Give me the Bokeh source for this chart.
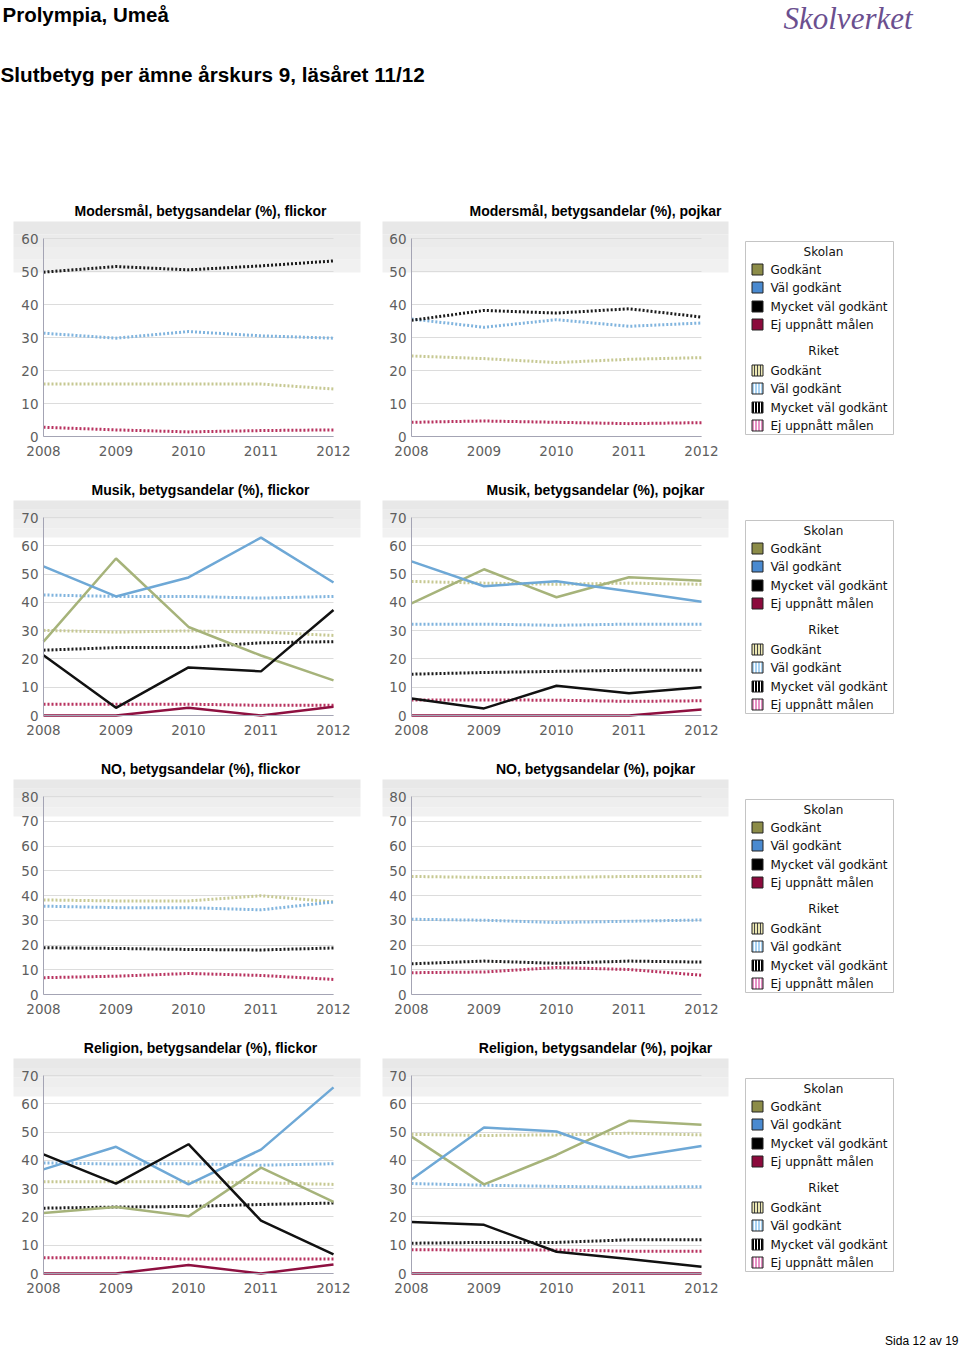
from bokeh.plotting import figure
from bokeh.layouts import column, row
from bokeh.models import FixedTicker, BoxAnnotation, Label, Range1d
from bokeh.embed import file_html
from bokeh.resources import INLINE
from bokeh.core.properties import value

# ---------------- data ----------------
YEARS = [2008, 2009, 2010, 2011, 2012]
YEAR_LABELS = {2008: "2008", 2009: "2009", 2010: "2010", 2011: "2011", 2012: "2012"}
GRADES = ["Godkänt", "Väl godkänt", "Mycket väl godkänt", "Ej uppnått målen"]

HEADER_SCHOOL = "Prolympia, Umeå"
HEADER_TITLE = "Slutbetyg per ämne årskurs 9, läsåret 11/12"
LOGO_TEXT = "Skolverket"
FOOTER_TEXT = "Sida 12 av 19"

TITLES = [
    "Modersmål, betygsandelar (%), flickor", "Modersmål, betygsandelar (%), pojkar",
    "Musik, betygsandelar (%), flickor", "Musik, betygsandelar (%), pojkar",
    "NO, betygsandelar (%), flickor", "NO, betygsandelar (%), pojkar",
    "Religion, betygsandelar (%), flickor", "Religion, betygsandelar (%), pojkar",
]
YMAX = [60, 60, 70, 70, 80, 80, 70, 70]

# Modersmål, flickor (only Riket)
mod_f_riket_g = [15.9, 15.9, 15.9, 15.9, 14.4]
mod_f_riket_vg = [31.3, 29.8, 31.8, 30.5, 29.8]
mod_f_riket_mvg = [49.8, 51.5, 50.5, 51.7, 53.2]
mod_f_riket_ej = [2.8, 2.0, 1.4, 1.8, 2.0]

# Modersmål, pojkar (only Riket)
mod_p_riket_g = [24.4, 23.6, 22.4, 23.4, 23.9]
mod_p_riket_vg = [35.6, 33.1, 35.4, 33.4, 34.4]
mod_p_riket_mvg = [35.2, 38.2, 37.4, 38.7, 36.2]
mod_p_riket_ej = [4.3, 4.7, 4.3, 3.9, 4.2]

# Musik, flickor
mus_f_skolan_g = [26.1, 55.5, 31.3, 21.2, 12.4]
mus_f_skolan_vg = [52.7, 42.1, 48.8, 62.9, 47.0]
mus_f_skolan_mvg = [21.3, 2.7, 17.0, 15.6, 37.3]
mus_f_skolan_ej = [0.0, 0.0, 2.7, 0.0, 3.1]
mus_f_riket_g = [30.1, 29.5, 29.9, 29.5, 28.3]
mus_f_riket_vg = [42.6, 42.1, 42.1, 41.5, 42.1]
mus_f_riket_mvg = [23.1, 24.0, 24.0, 25.7, 26.1]
mus_f_riket_ej = [4.0, 4.0, 4.0, 3.6, 3.6]

# Musik, pojkar
mus_p_skolan_g = [39.6, 51.7, 41.8, 48.9, 47.6]
mus_p_skolan_vg = [54.5, 45.7, 47.5, 43.9, 40.2]
mus_p_skolan_mvg = [6.0, 2.5, 10.5, 7.9, 10.0]
mus_p_skolan_ej = [0.0, 0.0, 0.0, 0.0, 2.1]
mus_p_riket_g = [47.4, 46.8, 46.4, 46.8, 46.4]
mus_p_riket_vg = [32.3, 32.3, 31.9, 32.3, 32.3]
mus_p_riket_mvg = [14.6, 15.2, 15.6, 16.0, 16.0]
mus_p_riket_ej = [5.5, 5.5, 5.4, 5.0, 5.2]

# NO, flickor (only Riket)
no_f_riket_g = [38.2, 37.8, 37.8, 39.9, 37.4]
no_f_riket_vg = [35.7, 35.1, 35.1, 34.2, 37.4]
no_f_riket_mvg = [18.9, 18.6, 18.2, 18.0, 18.8]
no_f_riket_ej = [6.8, 7.4, 8.5, 7.7, 6.1]

# NO, pojkar (only Riket)
no_p_riket_g = [47.7, 47.3, 47.3, 47.7, 47.7]
no_p_riket_vg = [30.4, 30.0, 29.1, 29.6, 30.1]
no_p_riket_mvg = [12.4, 13.5, 12.6, 13.5, 13.1]
no_p_riket_ej = [8.8, 9.1, 10.9, 10.1, 7.8]

# Religion, flickor
rel_f_skolan_g = [21.4, 23.5, 20.2, 37.4, 25.3]
rel_f_skolan_vg = [36.8, 44.8, 31.5, 43.8, 65.8]
rel_f_skolan_mvg = [42.1, 31.8, 45.7, 18.7, 6.8]
rel_f_skolan_ej = [0.0, 0.0, 3.0, 0.0, 3.2]
rel_f_riket_g = [32.4, 32.4, 32.4, 32.1, 31.5]
rel_f_riket_vg = [39.1, 38.7, 38.8, 38.3, 38.8]
rel_f_riket_mvg = [23.1, 23.5, 23.7, 24.4, 24.9]
rel_f_riket_ej = [5.6, 5.6, 5.1, 5.1, 5.1]

# Religion, pojkar
rel_p_skolan_g = [48.4, 31.5, 41.9, 54.0, 52.6]
rel_p_skolan_vg = [33.2, 51.6, 50.2, 41.0, 45.1]
rel_p_skolan_mvg = [18.2, 17.2, 7.7, 5.1, 2.4]
rel_p_skolan_ej = [0.0, 0.0, 0.0, 0.0, 0.0]
rel_p_riket_g = [49.2, 48.8, 49.0, 49.6, 49.0]
rel_p_riket_vg = [31.8, 31.2, 30.8, 30.5, 30.7]
rel_p_riket_mvg = [10.7, 11.0, 11.0, 11.9, 11.9]
rel_p_riket_ej = [8.4, 8.3, 8.3, 7.9, 7.9]

SKOLAN = [
    None, None,
    [mus_f_skolan_g, mus_f_skolan_vg, mus_f_skolan_mvg, mus_f_skolan_ej],
    [mus_p_skolan_g, mus_p_skolan_vg, mus_p_skolan_mvg, mus_p_skolan_ej],
    None, None,
    [rel_f_skolan_g, rel_f_skolan_vg, rel_f_skolan_mvg, rel_f_skolan_ej],
    [rel_p_skolan_g, rel_p_skolan_vg, rel_p_skolan_mvg, rel_p_skolan_ej],
]
RIKET = [
    [mod_f_riket_g, mod_f_riket_vg, mod_f_riket_mvg, mod_f_riket_ej],
    [mod_p_riket_g, mod_p_riket_vg, mod_p_riket_mvg, mod_p_riket_ej],
    [mus_f_riket_g, mus_f_riket_vg, mus_f_riket_mvg, mus_f_riket_ej],
    [mus_p_riket_g, mus_p_riket_vg, mus_p_riket_mvg, mus_p_riket_ej],
    [no_f_riket_g, no_f_riket_vg, no_f_riket_mvg, no_f_riket_ej],
    [no_p_riket_g, no_p_riket_vg, no_p_riket_mvg, no_p_riket_ej],
    [rel_f_riket_g, rel_f_riket_vg, rel_f_riket_mvg, rel_f_riket_ej],
    [rel_p_riket_g, rel_p_riket_vg, rel_p_riket_mvg, rel_p_riket_ej],
]

# ---------------- styles ----------------
SKOLAN_COLORS = ["#a6b37a", "#6ea8d6", "#111111", "#8e1040"]
RIKET_COLORS = ["#c6c892", "#80b4de", "#1a1a1a", "#b8325f"]
SWATCH_SKOLAN = ["#8c8c48", "#4a8ad0", "#000000", "#8b0a3c"]
SWATCH_RIKET = ["#ece8b4", "#a8d2f2", "#000000", "#e690c4"]
SWATCH_HATCH = ["#444444", "#ffffff", "#ffffff", "#ffffff"]

ROW_H = 279
ZERO_Y = 240         # canvas y of value 0
TOP_TICK_Y = 42      # canvas y of the top tick
PX_YEAR = 72.5
TICK_FONT = "DejaVu Sans"
TITLE_FONT = "Liberation Sans"


def chart(idx, width, x2008, title_cx, band_x0, band_x1, band_bottom):
    ymax = YMAX[idx]
    per_px = ymax / (ZERO_Y - TOP_TICK_Y)

    def px2x(px):
        return 2008 + (px - x2008) / PX_YEAR

    def px2y(py):
        return (ZERO_Y - py) * per_px

    p = figure(width=width, height=ROW_H,
               x_range=Range1d(px2x(0), px2x(width)), y_range=Range1d(px2y(ROW_H), px2y(0)),
               output_backend="svg", toolbar_location=None,
               min_border_left=0, min_border_right=0,
               min_border_top=0, min_border_bottom=0,
               outline_line_color=None, background_fill_color="white",
               border_fill_color="white")
    # light grey band at the top of the panel
    band_cols = ["#e8e8e8", "#ebebeb", "#eeeeee", "#f1f1f1"]
    n = len(band_cols)
    step = (band_bottom - 25) / n
    for i, c in enumerate(band_cols):
        p.add_layout(BoxAnnotation(left=px2x(band_x0), right=px2x(band_x1),
                                   top=px2y(25 + i * step), bottom=px2y(25 + (i + 1) * step),
                                   fill_color=c, fill_alpha=1.0, line_color=None,
                                   level="image"))
    p.add_layout(Label(x=px2x(title_cx), y=px2y(14),
                       text=TITLES[idx], text_align="center", text_baseline="middle",
                       text_font=TITLE_FONT, text_font_style="bold",
                       text_font_size="14px", text_color="#000000"))

    for vals, col in zip(RIKET[idx], RIKET_COLORS):
        p.line(YEARS, vals, line_color=col, line_width=3, line_dash="2 2")
    if SKOLAN[idx] is not None:
        for vals, col in zip(SKOLAN[idx], SKOLAN_COLORS):
            p.line(YEARS, vals, line_color=col, line_width=2.5)

    p.xaxis.ticker = FixedTicker(ticks=YEARS)
    p.xaxis.major_label_overrides = YEAR_LABELS
    p.xaxis.bounds = (2008, 2012)
    p.xaxis.fixed_location = 0
    p.yaxis.ticker = FixedTicker(ticks=list(range(0, ymax + 1, 10)))
    p.yaxis.fixed_location = 2008
    p.yaxis.bounds = (0, ymax)
    p.xgrid.visible = False
    p.ygrid.grid_line_color = "#dcdcdc"
    p.ygrid.grid_line_width = 1
    p.ygrid.cross_bounds = (2008, 2012)
    for ax in (p.xaxis[0], p.yaxis[0]):
        ax.axis_line_color = "#a4a4b4"
        ax.axis_line_width = 1
        ax.major_tick_line_color = None
        ax.minor_tick_line_color = None
        ax.major_tick_out = 0
        ax.major_tick_in = 0
        ax.major_label_text_font = TICK_FONT
        ax.major_label_text_font_size = "13.5px"
        ax.major_label_text_color = "#5e5e5e"
    p.yaxis.major_label_standoff = 5
    p.xaxis.major_label_standoff = 9
    return p


def legend_fig():
    p = figure(width=220, height=ROW_H, x_range=Range1d(0, 220), y_range=Range1d(ROW_H, 0),
               output_backend="svg", toolbar_location=None, x_axis_type=None, y_axis_type=None,
               min_border_left=0, min_border_right=0, min_border_top=0, min_border_bottom=0,
               outline_line_color=None, background_fill_color="white",
               border_fill_color="white")
    p.grid.visible = False
    p.quad(left=[5], right=[153], top=[45], bottom=[238], fill_color="white",
           line_color="#c4c4c4", line_width=1)
    font = value("DejaVu Sans")
    p.text(x=[83, 83], y=[55, 154], text=["Skolan", "Riket"], text_align="center",
           text_baseline="middle", text_font=font, text_font_size="12px", text_color="#111111")
    ys_s = [73, 91, 110, 128]
    ys_r = [174, 192, 211, 229]
    p.rect(x=[17] * 4, y=ys_s, width=11, height=11, fill_color=SWATCH_SKOLAN,
           line_color="#222222", line_width=1)
    p.rect(x=[17] * 4, y=ys_r, width=11, height=11, fill_color=SWATCH_RIKET,
           hatch_pattern="|", hatch_color=SWATCH_HATCH, hatch_scale=3, hatch_weight=1,
           line_color="#222222", line_width=1)
    p.text(x=[30] * 4, y=ys_s, text=GRADES, text_align="left", text_baseline="middle",
           text_font=font, text_font_size="12px", text_color="#111111")
    p.text(x=[30] * 4, y=ys_r, text=GRADES, text_align="left", text_baseline="middle",
           text_font=font, text_font_size="12px", text_color="#111111")
    return p


HEADER_H = 196
header = figure(width=960, height=HEADER_H, x_range=Range1d(0, 960), y_range=Range1d(HEADER_H, 0),
                output_backend="svg", toolbar_location=None, x_axis_type=None, y_axis_type=None,
                min_border=0, outline_line_color=None)
header.grid.visible = False
header.text(x=[2], y=[14], text=[HEADER_SCHOOL], text_baseline="middle", text_align="left",
            text_font=value("Liberation Sans"), text_font_style="bold", text_font_size="20.5px",
            text_color="#000000")
header.text(x=[0], y=[74], text=[HEADER_TITLE], text_baseline="middle", text_align="left",
            text_font=value("Liberation Sans"), text_font_style="bold", text_font_size="20.7px",
            text_color="#000000")
header.text(x=[783], y=[18], text=[LOGO_TEXT], text_baseline="middle", text_align="left",
            text_font=value("Liberation Serif"), text_font_style="italic", text_font_size="31px",
            text_color="#6b4f8f")

FOOTER_H = 36
footer = figure(width=960, height=FOOTER_H, x_range=Range1d(0, 960), y_range=Range1d(FOOTER_H, 0),
                output_backend="svg", toolbar_location=None, x_axis_type=None, y_axis_type=None,
                min_border=0, outline_line_color=None)
footer.grid.visible = False
footer.text(x=[958], y=[28], text=[FOOTER_TEXT], text_baseline="middle", text_align="right",
            text_font=value("Liberation Sans"), text_font_size="12px", text_color="#000000")

rows = []
band_bottoms = [76, 62, 62, 63]
for r in range(4):
    left = chart(2 * r, 376, 43, 200, 13, 360, band_bottoms[r])
    right = chart(2 * r + 1, 364, 35, 219, 6, 352, band_bottoms[r])
    rows.append(row(left, right, legend_fig(), spacing=0))

page = column(header, *rows, footer, spacing=0)

with open("out.html", "w") as f:
    f.write(file_html(page, INLINE))
